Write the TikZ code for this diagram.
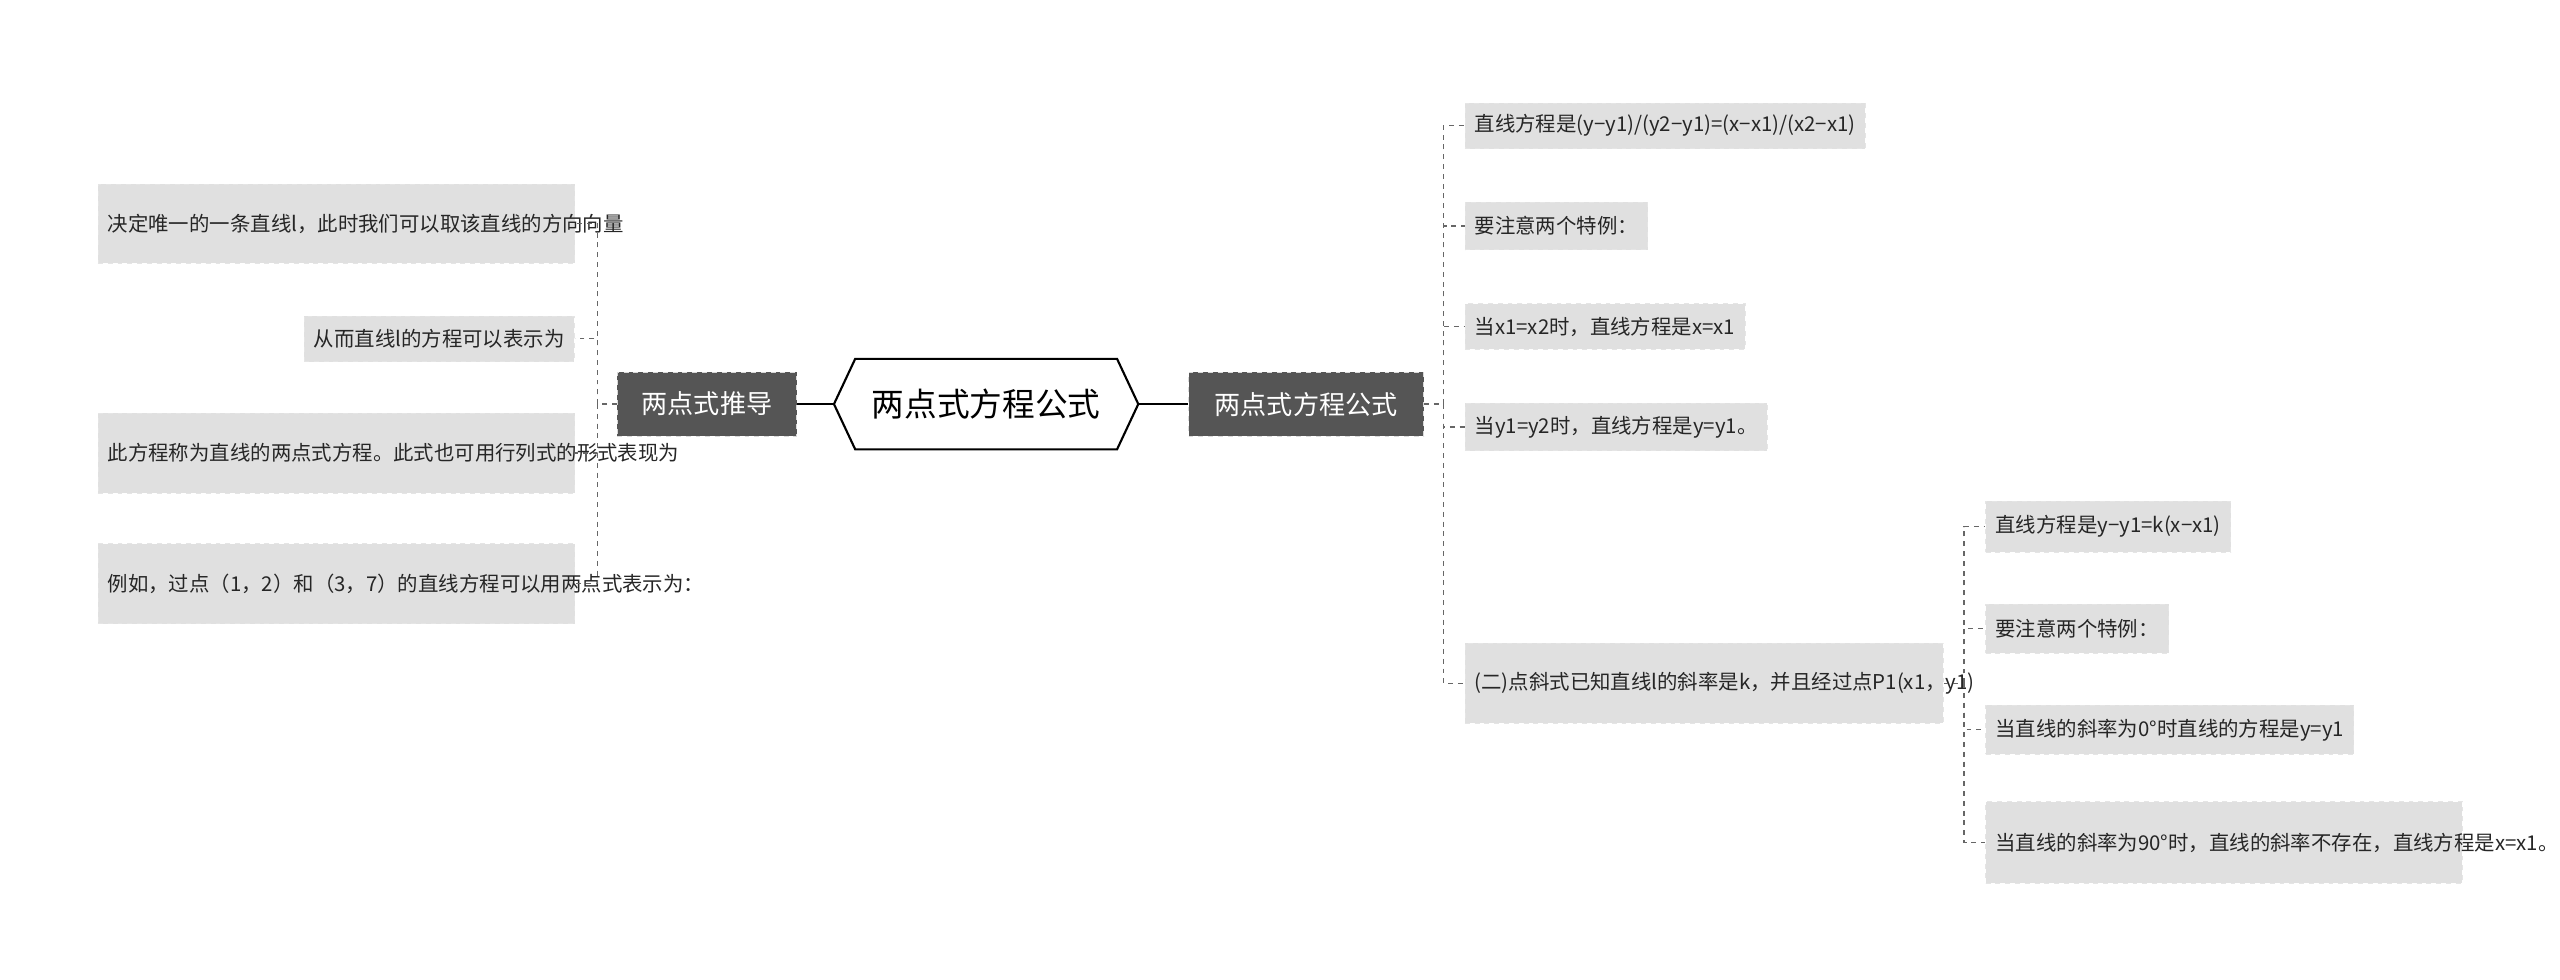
\documentclass[tikz,border=0pt]{standalone}
\usepackage{fontspec}
\setmainfont{Noto Sans CJK SC}
\usetikzlibrary{calc}
\definecolor{dk}{HTML}{555555}
\definecolor{lf}{HTML}{E0E0E0}
\definecolor{ln}{HTML}{666666}
\tikzset{
 leaf/.style={fill=lf,draw=white!80!gray,dashed,inner sep=6pt,align=left,font=\fontsize{12.5}{19}\selectfont,text=black!85},
 mid/.style={fill=dk,draw=white!70!gray,dashed,text=white,font=\fontsize{16}{18}\selectfont,minimum height=39pt,inner sep=8pt},
 con/.style={draw=ln,dashed,line width=0.8pt},
 sol/.style={draw=black,line width=1pt}
}
\begin{document}
\begin{tikzpicture}[x=1pt,y=-1pt]
\useasboundingbox[fill=white] (0,0) rectangle (1568,600);
% center
\node[font=\fontsize{20}{22}\selectfont,minimum width=160pt,minimum height=55pt] (hx) at (604,247.5) {两点式方程公式};
\draw[line width=1.3pt] ($(hx.west)+(-13,0)$) -- (hx.north west) -- (hx.north east) -- ($(hx.east)+(13,0)$) -- (hx.south east) -- (hx.south west) -- cycle;
\node[mid,minimum width=110pt] (L) at (433,247.5) {两点式推导};
\node[mid,minimum width=144pt] (R) at (800,247.5) {两点式方程公式};
\draw[sol] (L.east) -- ($(hx.west)+(-13,0)$);
\draw[sol] ($(hx.east)+(13,0)$) -- (R.west);
% left leaves
\node[leaf,text width=280pt,minimum height=48pt] (l1) at (206,137) {决定唯一的一条直线l，此时我们可以取该直线的方向向量};
\node[leaf,minimum height=28pt] (l2) [anchor=east] at (352,207.5) {从而直线l的方程可以表示为};
\node[leaf,text width=280pt,minimum height=49pt] (l3) at (206,277.5) {此方程称为直线的两点式方程。此式也可用行列式的形式表现为};
\node[leaf,text width=280pt,minimum height=49pt] (l4) at (206,357.5) {例如，过点（1，2）和（3，7）的直线方程可以用两点式表示为：};
\coordinate (lj) at (366,247.5);
\draw[con] (L.west) -- (lj);
\foreach \n in {l1,l2,l3,l4} \draw[con] (lj) |- (\n.east);
% right leaves
\node[leaf,anchor=west,minimum height=28pt] (r1) at (897,77) {直线方程是(y−y1)/(y2−y1)=(x−x1)/(x2−x1)};
\node[leaf,anchor=west,minimum height=29pt] (r2) at (897,138.5) {要注意两个特例：};
\node[leaf,anchor=west,minimum height=28pt] (r3) at (897,200) {当x1=x2时，直线方程是x=x1};
\node[leaf,anchor=west,minimum height=29pt] (r4) at (897,261.5) {当y1=y2时，直线方程是y=y1。};
\node[leaf,anchor=west,text width=281pt,minimum height=49pt] (r5) at (897,418.5) {(二)点斜式已知直线l的斜率是k，并且经过点P1(x1，y1)};
\coordinate (rj) at (884,247.5);
\draw[con] (R.east) -- (rj);
\foreach \n in {r1,r2,r3,r4,r5} \draw[con] (rj) |- (\n.west);
% sub leaves
\node[leaf,anchor=west,minimum height=31pt] (s1) at (1216,322.5) {直线方程是y−y1=k(x−x1)};
\node[leaf,anchor=west,minimum height=30pt] (s2) at (1216,385) {要注意两个特例：};
\node[leaf,anchor=west,minimum height=30pt] (s3) at (1216,447) {当直线的斜率为0°时直线的方程是y=y1};
\node[leaf,anchor=west,text width=280pt,minimum height=50pt] (s4) at (1216,516) {当直线的斜率为90°时，直线的斜率不存在，直线方程是x=x1。};
\coordinate (sj) at (1203,418.5);
\draw[con] (r5.east) -- (sj);
\foreach \n in {s1,s2,s3,s4} \draw[con] (sj) |- (\n.west);
\end{tikzpicture}
\end{document}
